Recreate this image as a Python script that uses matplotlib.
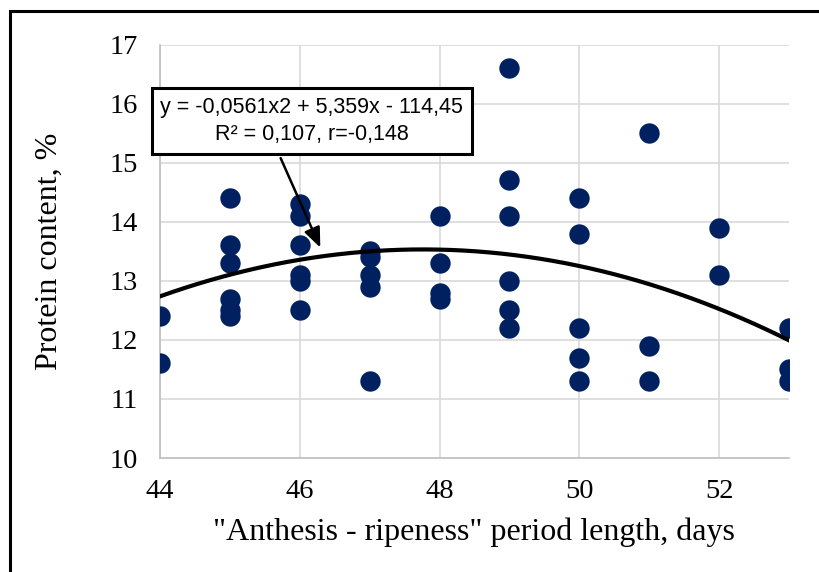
import numpy as np
import matplotlib
matplotlib.use("Agg")
import matplotlib.pyplot as plt
from matplotlib.patches import Rectangle

# Data
days = [44, 44,
        45, 45, 45, 45, 45, 45,
        46, 46, 46, 46, 46, 46,
        47, 47, 47, 47, 47,
        48, 48, 48, 48,
        49, 49, 49, 49, 49, 49,
        50, 50, 50, 50, 50,
        51, 51, 51,
        52, 52,
        53, 53, 53]
protein = [12.4, 11.6,
           14.4, 13.6, 13.3, 12.7, 12.5, 12.4,
           14.3, 14.1, 13.6, 13.1, 13.0, 12.5,
           13.5, 13.4, 13.1, 12.9, 11.3,
           14.1, 13.3, 12.8, 12.7,
           16.6, 14.7, 14.1, 13.0, 12.5, 12.2,
           14.4, 13.8, 12.2, 11.7, 11.3,
           15.5, 11.9, 11.3,
           13.9, 13.1,
           12.2, 11.5, 11.3]
trend_coefs = [-0.0561, 5.359, -114.45]
x_ticks = [44, 46, 48, 50, 52]
y_ticks = [10, 11, 12, 13, 14, 15, 16, 17]
eq_text = "y = -0,0561x2 + 5,359x - 114,45\nR² = 0,107, r=-0,148"
xlabel = '"Anthesis - ripeness" period length, days'
ylabel = "Protein content, %"

W, H = 819, 572
fig = plt.figure(figsize=(W / 100, H / 100), dpi=100)
ax = fig.add_axes([160 / W, 1 - 458 / H, (789 - 160) / W, (458 - 44.5) / H])

serif = ["Liberation Serif", "DejaVu Serif"]

ax.scatter(days, protein, s=215, color="#002060", zorder=3, linewidths=0)
xs = np.linspace(44, 53, 200)
ax.plot(xs, np.polyval(trend_coefs, xs), color="black", lw=3.0, zorder=4)

ax.set_xlim(44, 53)
ax.set_ylim(10, 17)
ax.set_xticks(x_ticks)
ax.set_yticks(y_ticks)
ax.grid(True, color="#d9d9d9", lw=1.2, zorder=0)
ax.set_axisbelow(True)
for side in ["top", "right"]:
    ax.spines[side].set_visible(False)
for side in ["left", "bottom"]:
    ax.spines[side].set_color("#bfbfbf")
    ax.spines[side].set_linewidth(1.2)
ax.tick_params(length=0, labelsize=20.5, labelcolor="black")
ax.tick_params(axis="x", pad=15)
ax.tick_params(axis="y", pad=16)
for lbl in ax.get_xticklabels() + ax.get_yticklabels():
    lbl.set_family(serif)

ax.set_xlabel(xlabel, fontsize=23, family=serif, color="black")
ax.set_ylabel(ylabel, fontsize=23, family=serif, color="black")
ax.xaxis.set_label_coords(0.499, -0.143)
ax.yaxis.set_label_coords(-0.153, 0.5)

# Equation annotation with arrow
ax.annotate("", xy=(46.31, 13.52), xytext=(45.71, 15.12),
            arrowprops=dict(arrowstyle="-|>,head_length=1.2,head_width=0.5",
                            color="black", lw=1.8), zorder=6)
ax.text(46.17, 15.70, eq_text, ha="center", va="center", fontsize=15.5,
        family=["Liberation Sans", "DejaVu Sans"], linespacing=1.4, zorder=7,
        bbox=dict(boxstyle="square,pad=0.4", facecolor="white",
                  edgecolor="black", linewidth=2.2))

# Outer border (left & top visible)
fig.patches.append(Rectangle((10 / W, -0.1), 1.2, 1 - 11 / H + 0.1,
                             transform=fig.transFigure, fill=False,
                             edgecolor="black", linewidth=2.2))

fig.savefig("out.png", dpi=100)
